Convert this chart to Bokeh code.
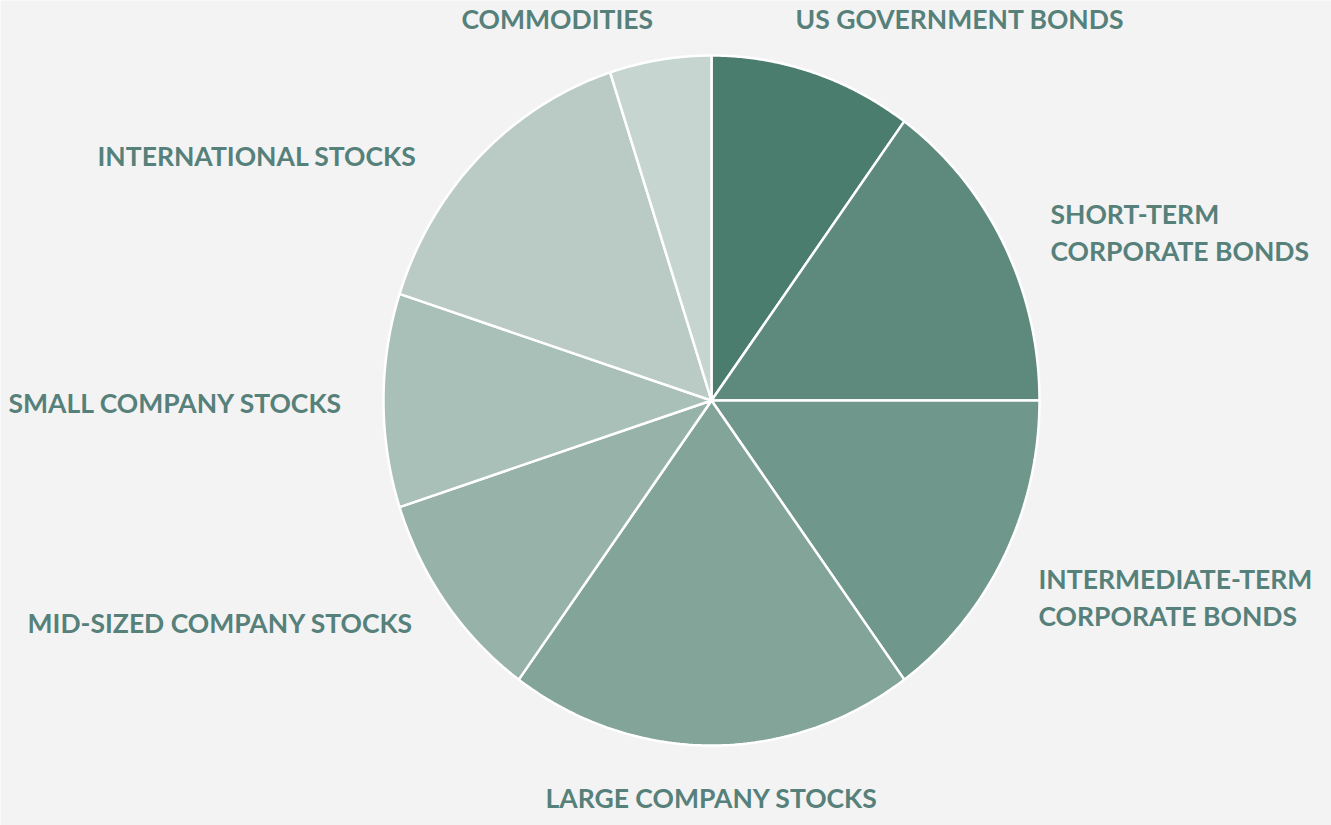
import numpy as np
from bokeh.plotting import figure
from bokeh.models import Range1d
from bokeh.core.properties import value
from bokeh.embed import file_html
from bokeh.resources import INLINE

# ---- data ----
categories = ["US GOVERNMENT BONDS", "SHORT-TERM CORPORATE BONDS",
              "INTERMEDIATE-TERM CORPORATE BONDS", "LARGE COMPANY STOCKS",
              "MID-SIZED COMPANY STOCKS", "SMALL COMPANY STOCKS",
              "INTERNATIONAL STOCKS", "COMMODITIES"]
shares = [10, 15, 15, 20, 10, 10, 15, 5]
colors = ["#4b7d6e", "#5e8a7d", "#70978b", "#83a499", "#97b3a9",
          "#a9c0b8", "#b9cbc4", "#c6d5cf"]

label_lines = [["US GOVERNMENT BONDS"], ["SHORT-TERM", "CORPORATE BONDS"],
               ["INTERMEDIATE-TERM", "CORPORATE BONDS"], ["LARGE COMPANY STOCKS"],
               ["MID-SIZED COMPANY STOCKS"], ["SMALL COMPANY STOCKS"],
               ["INTERNATIONAL STOCKS"], ["COMMODITIES"]]
# label anchor (left, middle of first line) in screenshot pixels - layout only
label_pos = [(795, 18), (1050, 213), (1038, 578), (545, 797),
             (27, 622), (8, 402), (97, 155), (461, 18)]

W, H = 1331, 825
cx, cy, rx, ry = 711, 400, 328, 345

p = figure(width=W, height=H, output_backend="svg", toolbar_location=None,
           x_range=Range1d(0, W), y_range=Range1d(H, 0),
           min_border=0)
p.axis.visible = False
p.grid.visible = False
p.outline_line_color = None
p.background_fill_color = "#f3f3f3"
p.border_fill_color = "#f3f3f3"

total = float(sum(shares))
cum = np.concatenate([[0], np.cumsum(shares)]) / total * 2 * np.pi
xs, ys = [], []
for i in range(len(shares)):
    th = np.linspace(cum[i], cum[i + 1], 100)
    xs.append([cx] + list(cx + rx * np.sin(th)) + [cx])
    ys.append([cy] + list(cy - ry * np.cos(th)) + [cy])
p.patches(xs=xs, ys=ys, fill_color=colors, line_color="white", line_width=2.5)

tx, ty, tt = [], [], []
for lines, (x0, y0) in zip(label_lines, label_pos):
    for k, ln in enumerate(lines):
        tx.append(x0)
        ty.append(y0 + k * 37)
        tt.append(ln)
p.text(x=tx, y=ty, text=tt, text_font=value("Lato"), text_font_style="bold",
       text_font_size="26.5px", text_color="#56807a", text_align="left",
       text_baseline="middle")

open("out.html", "w").write(file_html(p, INLINE))
